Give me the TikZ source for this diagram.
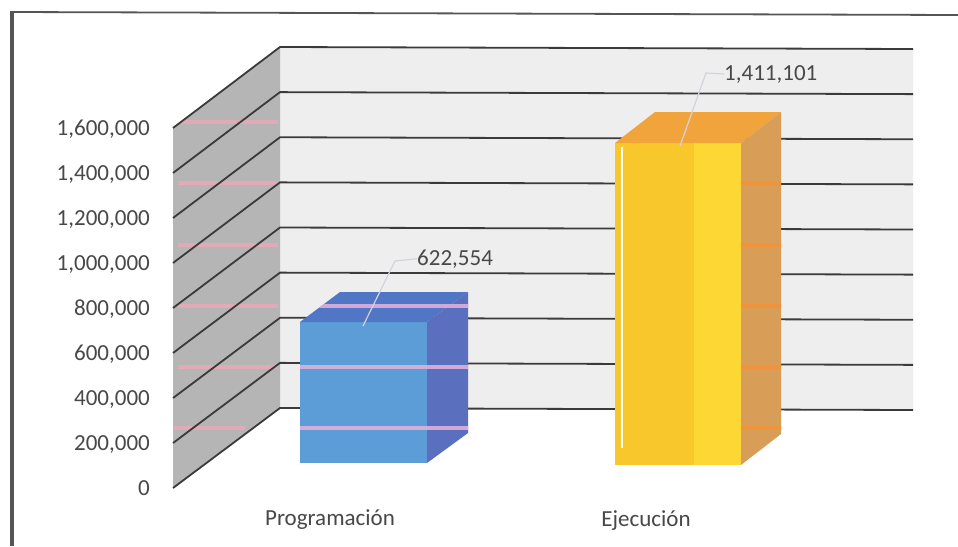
\documentclass[tikz,border=0pt]{standalone}
\usepackage{fontspec}
\setmainfont{Carlito}
\definecolor{txt}{HTML}{484848}
\definecolor{backc}{HTML}{EEEEEE}
\definecolor{sidec}{HTML}{B5B5B5}
\definecolor{gridc}{HTML}{3A3A3A}
\definecolor{framec}{HTML}{555555}
\definecolor{bfront}{HTML}{5C9DD8}
\definecolor{btop}{HTML}{5176C6}
\definecolor{bside}{HTML}{5A6FBD}
\definecolor{yfrontA}{HTML}{F7C72B}
\definecolor{yfrontB}{HTML}{FDD734}
\definecolor{ytop}{HTML}{F2A43C}
\definecolor{yside}{HTML}{D89E58}
\definecolor{stripeA}{HTML}{E9A9B7}
\definecolor{stripeB}{HTML}{DDB0DA}
\definecolor{stripeC}{HTML}{F59235}
\definecolor{leadc}{HTML}{D0D4DC}
\begin{document}
\begin{tikzpicture}[x=1pt,y=-1pt,
  lbl/.style={font=\fontsize{23}{25}\selectfont, text=txt, inner sep=0pt},
  grid/.style={draw=gridc, line width=1.8pt},
  leader/.style={draw=leadc, line width=1.2pt},
  stripe/.style={line width=4pt}]
\useasboundingbox (0,0) rectangle (958,546);
\fill[white] (0,0) rectangle (958,546);
% frame
\draw[framec, line width=1.8pt] (11,12) -- (958,15);
\draw[framec, line width=4pt] (12,11) -- (12,546);
% back wall
\fill[backc] (280,47) -- (913,49) -- (913,410) -- (280,408) -- cycle;
% side wall
\fill[sidec] (173,128) -- (280,47) -- (280,408) -- (173,488) -- cycle;
\begin{scope}
  \clip (173,128) -- (280,47) -- (280,408) -- (173,488) -- cycle;
  \foreach \s in {122,183,245,306,367} {\draw[stripe, stripeA, opacity=0.85] (178,\s) -- (278,\s);}
  \draw[stripe, stripeA, opacity=0.85] (173,428) -- (245,428);
\end{scope}
% gridlines
\foreach \k in {0,...,8} {
  \draw[grid] (173,{488-45*\k}) -- (280,{408-45.125*\k}) -- (913,{410-45.125*\k});
}
% blue bar
\fill[bfront] (300,322) rectangle (427,463);
\fill[btop] (300,322) -- (340,292) -- (468,292) -- (427,322) -- cycle;
\fill[bside] (427,322) -- (468,292) -- (468,433) -- (427,463) -- cycle;
\begin{scope}
  \clip (300,463) -- (300,322) -- (340,292) -- (468,292) -- (468,433) -- (427,463) -- cycle;
  \foreach \s in {306,367,428} {\draw[stripe, stripeB, opacity=0.9] (295,\s) -- (470,\s);}
\end{scope}
% yellow bar
\fill[yfrontA] (615,143) rectangle (694,465);
\fill[yfrontB] (694,143) rectangle (741,465);
\fill[ytop] (615,143) -- (655,112) -- (781,112) -- (741,143) -- cycle;
\fill[yside] (741,143) -- (781,112) -- (781,434) -- (741,465) -- cycle;
\begin{scope}
  \clip (741,143) -- (781,112) -- (781,434) -- (741,465) -- cycle;
  \foreach \s in {183,245,306,367,428} {\draw[stripe, stripeC, opacity=0.8] (740,\s) -- (782,\s);}
\end{scope}
\draw[white, line width=1.2pt] (622,147) -- (622,448);
% axis labels
\foreach \k/\t in {0/0,1/{200,000},2/{400,000},3/{600,000},4/{800,000},5/{1,000,000},6/{1,200,000},7/{1,400,000},8/{1,600,000}} {
  \node[lbl, anchor=base east] (ax\k) at (150,{495-45*\k}) {\t};
}
% category labels
\node[lbl, anchor=base] (catP) at (330,525) {Programación};
\node[lbl, anchor=base] (catE) at (646,526) {Ejecución};
% value labels
\node[lbl, anchor=base west] (valP) at (417,265) {622,554};
\node[lbl, anchor=base west] (valE) at (724,80) {1,411,101};
\coordinate (lP) at (363,326);
\coordinate (lE) at (680,146);
\draw[leader] (lP) -- (395,261) -- (valP.west);
\draw[leader] (lE) -- (706,73) -- (valE.west);
\end{tikzpicture}
\end{document}
